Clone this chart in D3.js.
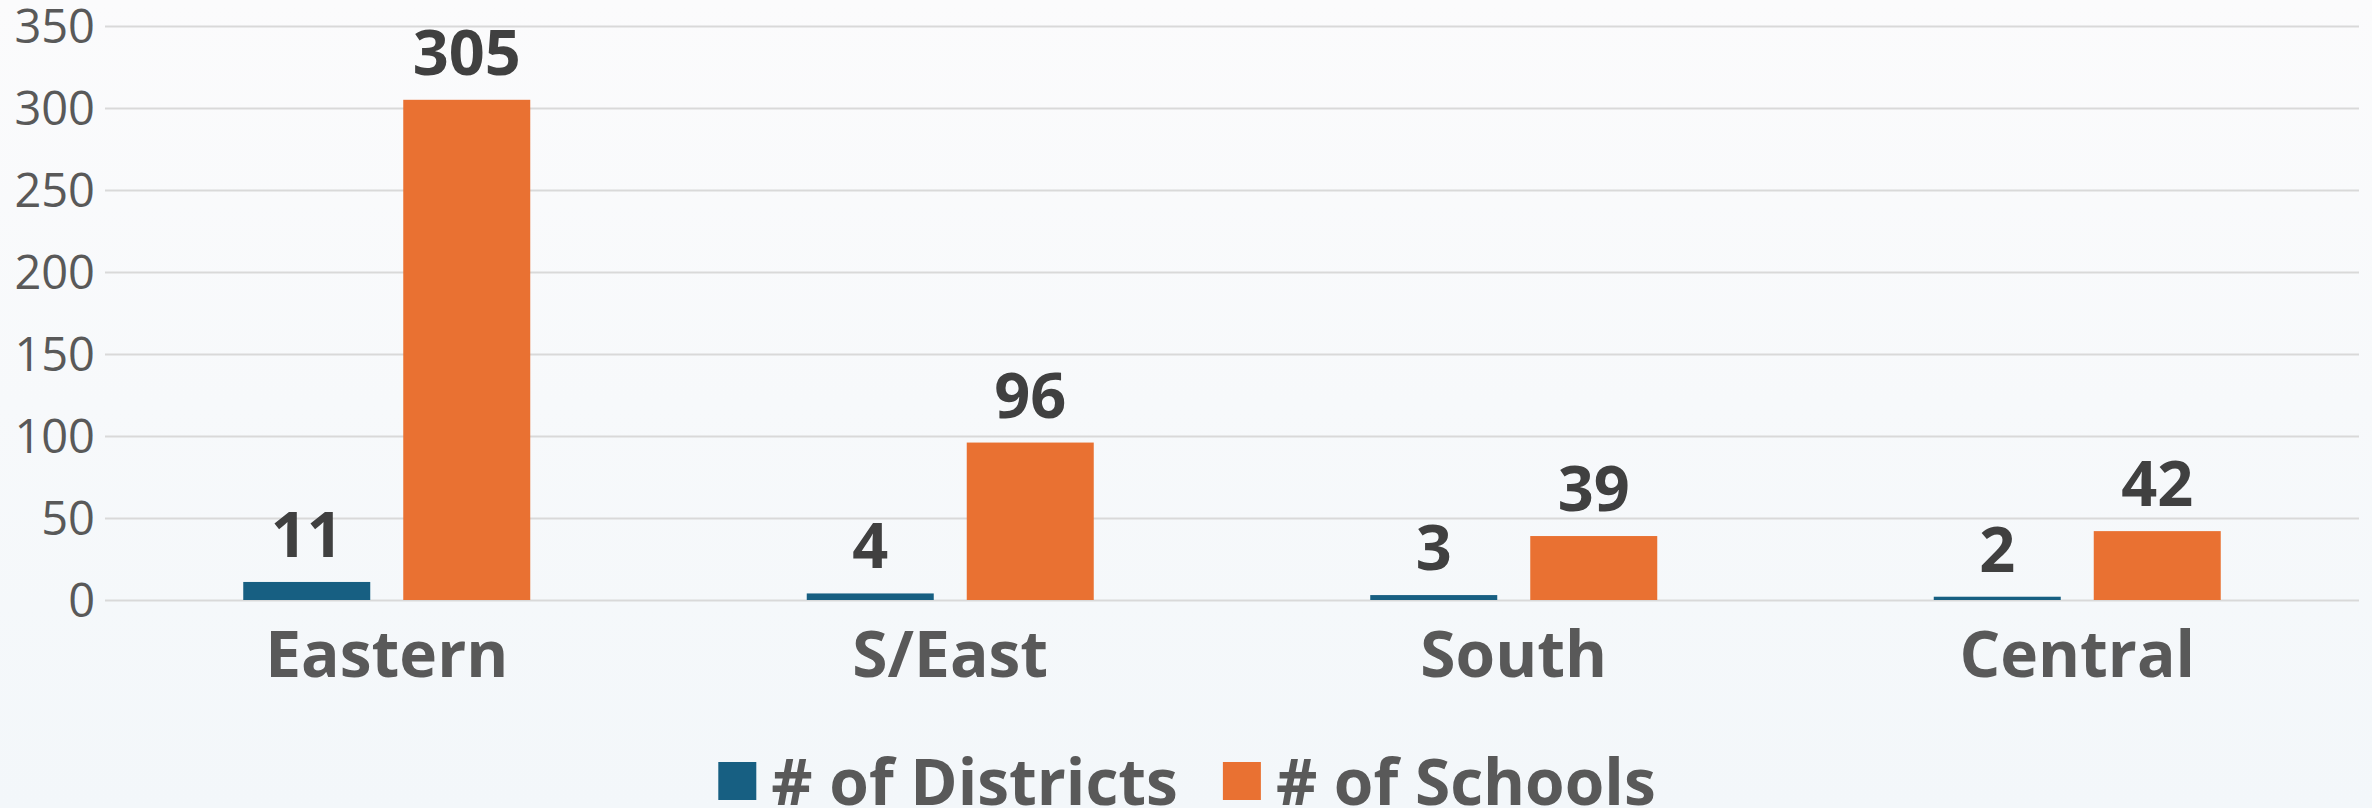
<!DOCTYPE html>
<html>
<head>
<meta charset="utf-8">
<script src="https://cdn.jsdelivr.net/npm/d3@7"></script>
<style>
  html, body { margin: 0; padding: 0; overflow: hidden; }
  body { width: 2372px; height: 808px; }
  text { font-family: "Open Sans", "Noto Sans", sans-serif; }
</style>
</head>
<body>
<svg id="chart" width="2372" height="808"></svg>
<script>
// data
const regions = ['Eastern', 'S/East', 'South', 'Central'];
const districts = [11, 4, 3, 2];
const schools = [305, 96, 39, 42];
const seriesNames = ['# of Districts', '# of Schools'];
const seriesColors = ['#175f82', '#e97132'];
const yTicks = [0, 50, 100, 150, 200, 250, 300, 350];

const W = 2372, H = 808;
const svg = d3.select('#chart');

// background
const grad = svg.append('defs').append('linearGradient')
  .attr('id', 'bg').attr('x1', 0).attr('y1', 0).attr('x2', 0).attr('y2', 1);
grad.append('stop').attr('offset', '0%').attr('stop-color', '#fbfbfc');
grad.append('stop').attr('offset', '100%').attr('stop-color', '#f3f7fa');
svg.append('rect').attr('width', W).attr('height', H).attr('fill', 'url(#bg)');

const x = d3.scaleBand().domain(regions).range([105, 2359]);
const y = d3.scaleLinear().domain([0, 350]).range([600, 26]);
const barW = 127, gap = 33;

// gridlines + y labels
const yAxis = svg.append('g')
  .attr('transform', 'translate(105,0)')
  .call(d3.axisLeft(y).tickValues(yTicks).tickSize(-(2359 - 105)).tickPadding(10));
yAxis.select('.domain').remove();
yAxis.selectAll('.tick line').attr('stroke', '#d9d9d9').attr('stroke-width', 2);
yAxis.selectAll('.tick text')
  .attr('fill', '#595959')
  .style('font-size', '47px')
  .attr('dy', '0.36em');

// bars
const series = [districts, schools];
series.forEach((vals, s) => {
  const offset = s === 0 ? -gap / 2 - barW : gap / 2;
  const g = svg.append('g');
  g.selectAll('rect')
    .data(regions)
    .enter()
    .append('rect')
    .attr('x', (d) => x(d) + x.bandwidth() / 2 + offset)
    .attr('width', barW)
    .attr('y', (d, i) => y(vals[i]))
    .attr('height', (d, i) => y(0) - y(vals[i]))
    .attr('fill', seriesColors[s]);
  g.selectAll('text')
    .data(regions)
    .enter()
    .append('text')
    .attr('x', (d) => x(d) + x.bandwidth() / 2 + offset + barW / 2)
    .attr('y', (d, i) => y(vals[i]) - 25)
    .attr('text-anchor', 'middle')
    .attr('fill', '#404040')
    .style('font-size', '63px')
    .style('font-weight', 'bold')
    .text((d, i) => vals[i]);
});

// category labels
svg.append('g').selectAll('text')
  .data(regions)
  .enter()
  .append('text')
  .attr('x', (d) => x(d) + x.bandwidth() / 2)
  .attr('y', 677)
  .attr('text-anchor', 'middle')
  .attr('fill', '#595959')
  .style('font-size', '64px')
  .style('font-weight', 'bold')
  .text((d) => d);

// legend
const legend = svg.append('g');
let cx = 0;
seriesNames.forEach((name, i) => {
  const item = legend.append('g').attr('transform', `translate(${cx},0)`);
  item.append('rect').attr('x', 0).attr('y', 762).attr('width', 38).attr('height', 38)
    .attr('fill', seriesColors[i]);
  const t = item.append('text')
    .attr('x', 53).attr('y', 805)
    .attr('fill', '#595959')
    .style('font-size', '64px')
    .style('font-weight', 'bold')
    .text(name);
  cx += 53 + t.node().getComputedTextLength() + 45;
});
const legW = cx - 45;
legend.attr('transform', `translate(${1187 - legW / 2},0)`);
</script>
</body>
</html>
